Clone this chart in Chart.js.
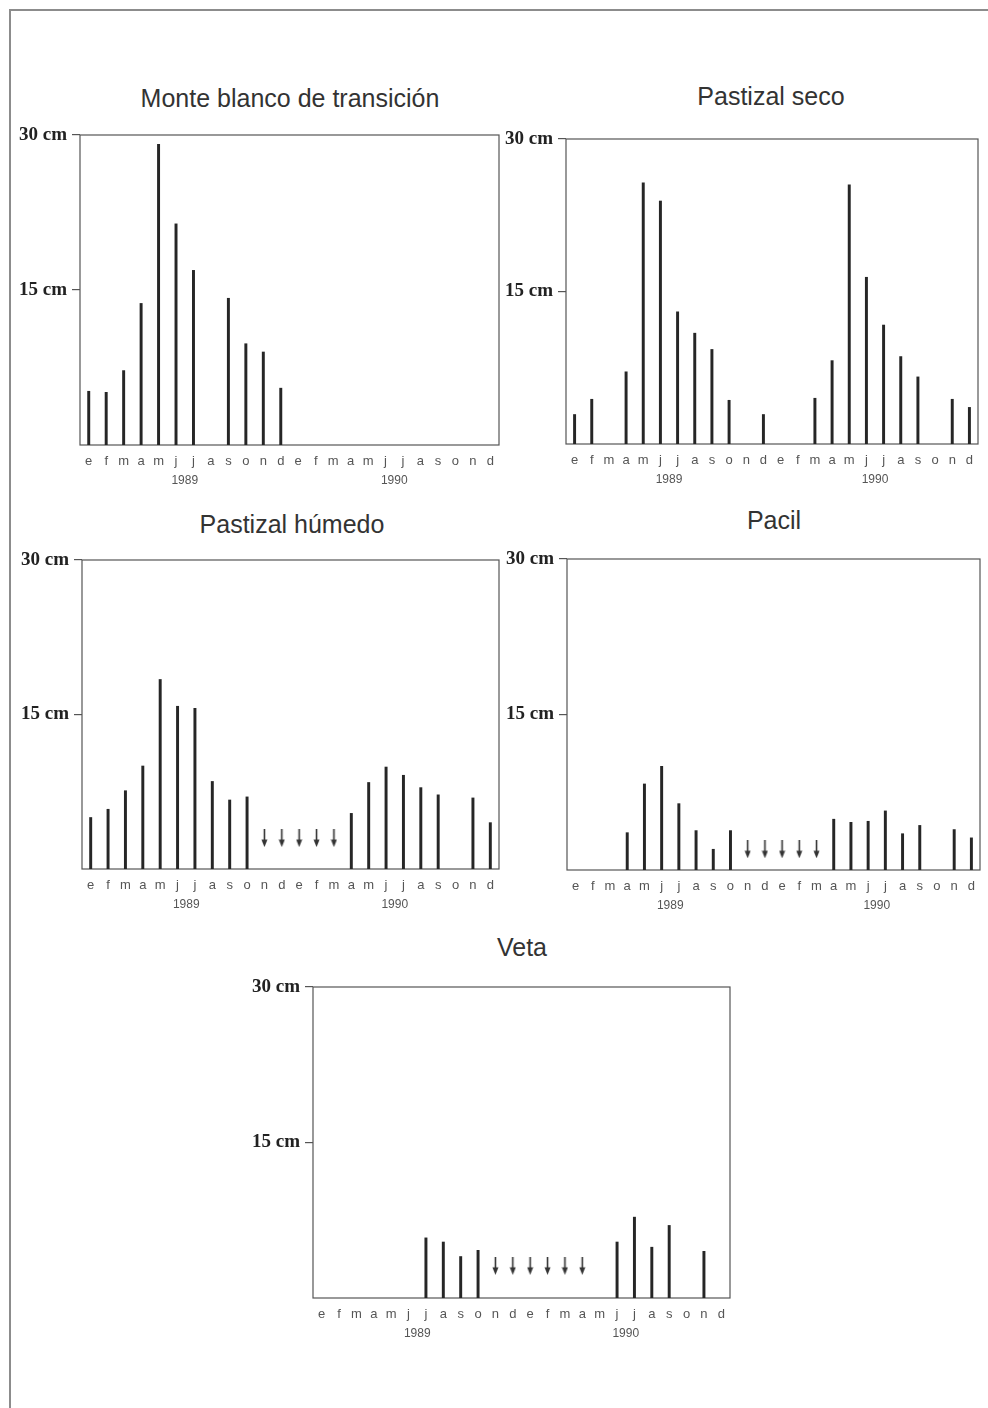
<!DOCTYPE html>
<html>
<head>
<meta charset="utf-8">
<script src="https://cdn.jsdelivr.net/npm/chart.js@4.4.0/dist/chart.umd.min.js"></script>
<style>
  html, body { margin: 0; padding: 0; background: #fff; }
  body { width: 988px; height: 1408px; position: relative; overflow: hidden; font-family: "Liberation Sans", Arial, sans-serif; }
  .hoja { position: absolute; left: 9px; top: 9px; width: 979px; height: 1399px; border-top: 2px solid #8c8c8c; border-left: 2px solid #8c8c8c; }
  .titulo { position: absolute; width: 400px; text-align: center; font-size: 25px; line-height: 30px; color: #333; }
  canvas { position: absolute; }
</style>
</head>
<body>
<div class="hoja"></div>
<script>
// meses (e = enero ... d = diciembre), dos años
const meses = ['e','f','m','a','m','j','j','a','s','o','n','d','e','f','m','a','m','j','j','a','s','o','n','d'];
const anios = ['1989', '1990'];
const yTicks = [15, 30];
const yEtiquetas = ['15 cm', '30 cm'];

// alturas (cm)
const monteBlanco = [5.2, 5.1, 7.2, 13.7, 29.1, 21.4, 16.9, null, 14.2, 9.8, 9.0, 5.5,
                     null, null, null, null, null, null, null, null, null, null, null, null];
const pastizalSeco = [2.9, 4.4, null, 7.1, 25.7, 23.9, 13.0, 10.9, 9.3, 4.3, null, 2.9,
                      null, null, 4.5, 8.2, 25.5, 16.4, 11.7, 8.6, 6.6, null, 4.4, 3.6];
const pastizalHumedo = [5.0, 5.8, 7.6, 10.0, 18.4, 15.8, 15.6, 8.5, 6.7, 7.0, null, null,
                        null, null, null, 5.4, 8.4, 9.9, 9.1, 7.9, 7.2, null, 6.9, 4.5];
const pacil = [null, null, null, 3.6, 8.3, 10.0, 6.4, 3.8, 2.0, 3.8, null, null,
               null, null, null, 4.9, 4.6, 4.7, 5.7, 3.5, 4.3, null, 3.9, 3.1];
const veta = [null, null, null, null, null, null, 5.8, 5.4, 4.0, 4.6, null, null,
              null, null, null, null, null, 5.4, 7.8, 4.9, 7.0, null, 4.5, null];

// flechas (meses sin medición), a la altura en que aparecen
const pastizalHumedoFlechas = [null, null, null, null, null, null, null, null, null, null, 3.0, 3.0,
                               3.0, 3.0, 3.0, null, null, null, null, null, null, null, null, null];
const pacilFlechas = [null, null, null, null, null, null, null, null, null, null, 2.0, 2.0,
                      2.0, 2.0, 2.0, null, null, null, null, null, null, null, null, null];
const vetaFlechas = [null, null, null, null, null, null, null, null, null, null, 3.1, 3.1,
                     3.1, 3.1, 3.1, 3.1, null, null, null, null, null, null, null, null];

// posición de cada panel en la página
const paneles = [
  { titulo: 'Monte blanco de transición', valores: monteBlanco, flechas: null,
    area: { l: 80, r: 499, t: 135, b: 445 }, tx: 290, ty: 98 },
  { titulo: 'Pastizal seco', valores: pastizalSeco, flechas: null,
    area: { l: 566, r: 978, t: 139, b: 444 }, tx: 771, ty: 96 },
  { titulo: 'Pastizal húmedo', valores: pastizalHumedo, flechas: pastizalHumedoFlechas,
    area: { l: 82, r: 499, t: 560, b: 869 }, tx: 292, ty: 524 },
  { titulo: 'Pacil', valores: pacil, flechas: pacilFlechas,
    area: { l: 567, r: 980, t: 559, b: 870 }, tx: 774, ty: 520 },
  { titulo: 'Veta', valores: veta, flechas: vetaFlechas,
    area: { l: 313, r: 730, t: 987, b: 1298 }, tx: 522, ty: 947 },
];

const Y_ANCHO = 80, PAD_TOP = 14, PAD_DER = 6, X_ALTO = 26, ANIO_ALTO = 20;

// flecha hacia abajo como pointStyle
const flecha = document.createElement('canvas');
flecha.width = 7; flecha.height = 18;
(function () {
  const c = flecha.getContext('2d');
  c.strokeStyle = '#333'; c.fillStyle = '#333'; c.lineWidth = 1.6;
  c.beginPath(); c.moveTo(3.5, 0); c.lineTo(3.5, 12); c.stroke();
  c.beginPath(); c.moveTo(0.5, 10.5); c.lineTo(6.5, 10.5); c.lineTo(3.5, 18); c.closePath(); c.fill();
})();

const marco = {
  id: 'marco',
  beforeDatasetsDraw(chart) {
    const a = chart.chartArea, ctx = chart.ctx;
    ctx.save();
    ctx.strokeStyle = '#555';
    ctx.lineWidth = 1.2;
    ctx.strokeRect(a.left, a.top, a.right - a.left, a.bottom - a.top);
    ctx.restore();
  }
};

// el año va centrado entre junio y julio
const anioPos = anios.map((_, k) => k * 12 + 5.5);

paneles.forEach(p => {
  const a = p.area;
  const izq = a.l - Y_ANCHO;
  const arriba = a.t - PAD_TOP;

  const t = document.createElement('div');
  t.className = 'titulo';
  t.textContent = p.titulo;
  t.style.left = (p.tx - 200) + 'px';
  t.style.top = (p.ty - 15) + 'px';
  document.body.appendChild(t);

  const cv = document.createElement('canvas');
  cv.width = a.r - izq + PAD_DER;
  cv.height = a.b - arriba + X_ALTO + ANIO_ALTO;
  cv.style.left = izq + 'px';
  cv.style.top = arriba + 'px';
  document.body.appendChild(cv);

  const datasets = [{
    type: 'bar',
    data: p.valores,
    backgroundColor: '#262626',
    barThickness: 2.3,
    order: 2
  }];
  if (p.flechas) {
    datasets.push({
      type: 'line',
      data: p.flechas,
      showLine: false,
      pointStyle: flecha,
      pointRadius: 5,
      order: 1
    });
  }

  new Chart(cv, {
    type: 'bar',
    data: { labels: meses, datasets },
    plugins: [marco],
    options: {
      responsive: false,
      animation: false,
      layout: { padding: { top: PAD_TOP, left: 0, right: PAD_DER, bottom: 0 } },
      plugins: { legend: { display: false }, tooltip: { enabled: false } },
      scales: {
        x: {
          type: 'category',
          offset: true,
          weight: 0,
          grid: { display: false, drawTicks: false },
          border: { display: false },
          ticks: { padding: 9, autoSkip: false, maxRotation: 0, color: '#555',
                   font: { family: 'Liberation Sans', size: 13 } },
          afterFit: s => { s.height = X_ALTO; s.paddingLeft = 0; s.paddingRight = 0; }
        },
        anio: {
          type: 'linear',
          position: 'bottom',
          min: -0.5, max: 23.5,
          offset: false,
          weight: 1,
          grid: { display: false, drawTicks: false, offset: false },
          border: { display: false },
          afterBuildTicks: s => { s.ticks = anioPos.map(v => ({ value: v })); },
          ticks: { padding: 2, autoSkip: false, maxRotation: 0, color: '#555',
                   font: { family: 'Liberation Sans', size: 12 },
                   callback: v => anios[anioPos.indexOf(v)] },
          afterFit: s => { s.height = ANIO_ALTO; s.paddingLeft = 0; s.paddingRight = 0; }
        },
        y: {
          min: 0, max: 30,
          grid: { drawOnChartArea: false, drawTicks: true, tickLength: 8, color: '#555', lineWidth: 1.2 },
          border: { display: false },
          afterBuildTicks: s => { s.ticks = yTicks.map(v => ({ value: v })); },
          ticks: { padding: 5, color: '#222',
                   font: { family: 'Liberation Serif', size: 19, weight: 'bold' },
                   callback: v => yEtiquetas[yTicks.indexOf(v)] },
          afterFit: s => { s.width = Y_ANCHO; s.paddingTop = 0; s.paddingBottom = 0; }
        }
      }
    }
  });
});
</script>
</body>
</html>
